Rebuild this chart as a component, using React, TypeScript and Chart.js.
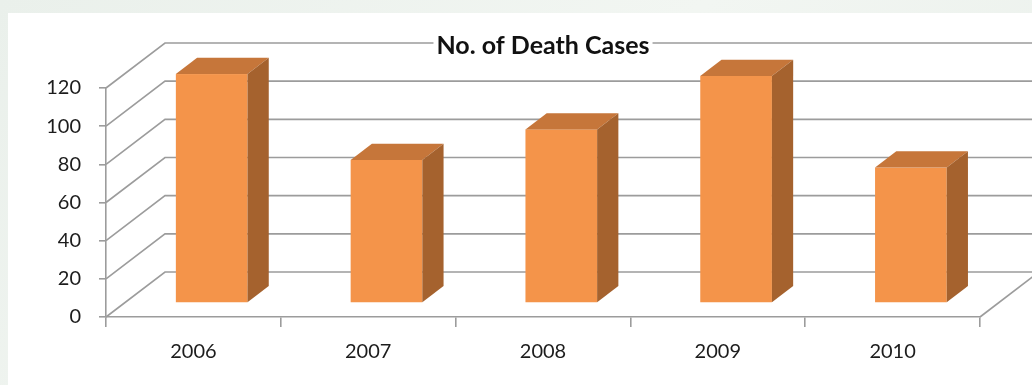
import React, { useEffect, useRef } from "react";
import { Chart, registerables } from "chart.js";

Chart.register(...registerables);

// Data
const years = ["2006", "2007", "2008", "2009", "2010"];
const deathCases = [120, 75, 91, 119, 71];
const yTickValues = [0, 20, 40, 60, 80, 100, 120];
const chartTitle = "No. of Death Cases";

// Styling
const FRONT = "#f4944a";
const TOP = "#c6763a";
const SIDE = "#a5622e";
const GRID = "#9c9c9c";
const TEXT = "#1c1c1c";
const FONT = "Lato, 'Open Sans', sans-serif";

// 3D box geometry: offset of the back wall relative to the front plane
const WALL_DX = 59;
const WALL_DY = 45;
// bars sit part way into the box
const BAR_FRONT = 0.31;
const BAR_DEPTH = 0.36;

const wallsPlugin = {
  id: "walls3d",
  beforeDatasetsDraw(chart: any) {
    const { ctx, chartArea, scales } = chart;
    const { left, right, bottom } = chartArea;
    const y = scales.y;
    ctx.save();
    ctx.strokeStyle = GRID;
    ctx.lineWidth = 1.6;
    for (const v of yTickValues) {
      const py = y.getPixelForValue(v);
      ctx.beginPath();
      ctx.moveTo(left, py);
      ctx.lineTo(left + WALL_DX, py - WALL_DY);
      ctx.lineTo(chart.width + 10, py - WALL_DY);
      ctx.stroke();
    }
    // right edge of the floor
    ctx.beginPath();
    ctx.moveTo(right, bottom);
    ctx.lineTo(right + WALL_DX, bottom - WALL_DY);
    ctx.stroke();
    ctx.restore();
  },
};

const bars3dPlugin = {
  id: "bars3d",
  beforeDatasetDraw() {
    // boxes are painted in afterDatasetsDraw
    return false;
  },
  afterDatasetsDraw(chart: any) {
    const { ctx } = chart;
    const meta = chart.getDatasetMeta(0);
    const ox = BAR_FRONT * WALL_DX;
    const oy = BAR_FRONT * WALL_DY;
    const dx = BAR_DEPTH * WALL_DX;
    const dy = BAR_DEPTH * WALL_DY;
    ctx.save();
    meta.data.forEach((bar: any) => {
      const { x, y, base, width } = bar.getProps(["x", "y", "base", "width"], true);
      const x0 = x - width / 2 + ox;
      const x1 = x + width / 2 + ox;
      const yt = y - oy;
      const yb = base - oy;
      // front face
      ctx.fillStyle = FRONT;
      ctx.fillRect(x0, yt, x1 - x0, yb - yt);
      // top face
      ctx.fillStyle = TOP;
      ctx.beginPath();
      ctx.moveTo(x0, yt);
      ctx.lineTo(x1, yt);
      ctx.lineTo(x1 + dx, yt - dy);
      ctx.lineTo(x0 + dx, yt - dy);
      ctx.closePath();
      ctx.fill();
      // side face
      ctx.fillStyle = SIDE;
      ctx.beginPath();
      ctx.moveTo(x1, yt);
      ctx.lineTo(x1 + dx, yt - dy);
      ctx.lineTo(x1 + dx, yb - dy);
      ctx.lineTo(x1, yb);
      ctx.closePath();
      ctx.fill();
    });
    ctx.restore();
  },
};

const titlePlugin = {
  id: "boxTitle",
  afterDraw(chart: any) {
    const { ctx, chartArea } = chart;
    const cx = (chartArea.left + chartArea.right) / 2;
    const cy = 33;
    ctx.save();
    ctx.font = `bold 25px ${FONT}`;
    const w = ctx.measureText(chartTitle).width;
    ctx.fillStyle = "#ffffff";
    ctx.fillRect(cx - w / 2 - 3, cy - 14, w + 6, 28);
    ctx.fillStyle = "#111111";
    ctx.textAlign = "center";
    ctx.textBaseline = "middle";
    ctx.fillText(chartTitle, cx, cy);
    ctx.restore();
  },
};

export default function App() {
  const canvasRef = useRef<HTMLCanvasElement | null>(null);

  useEffect(() => {
    if (!canvasRef.current) return;
    const chart = new Chart(canvasRef.current, {
      type: "bar",
      data: {
        labels: years,
        datasets: [
          {
            label: chartTitle,
            data: deathCases,
            backgroundColor: FRONT,
            categoryPercentage: 1,
            barPercentage: 0.41,
          },
        ],
      },
      options: {
        animation: false,
        responsive: false,
        devicePixelRatio: 1,
        layout: { padding: { top: 75, right: 52, left: 0, bottom: 0 } },
        plugins: {
          legend: { display: false },
          tooltip: { enabled: false },
          title: { display: false },
        },
        scales: {
          x: {
            type: "category",
            offset: true,
            grid: {
              offset: true,
              drawOnChartArea: false,
              drawTicks: true,
              tickLength: 10,
              color: GRID,
              lineWidth: 1.6,
            },
            border: { display: true, color: GRID, width: 1.6 },
            ticks: {
              color: TEXT,
              font: { family: FONT, size: 20 },
              padding: 13,
              maxRotation: 0,
            },
            afterFit(scale: any) {
              scale.height = 68;
            },
          },
          y: {
            min: 0,
            max: 120,
            grid: {
              drawOnChartArea: false,
              drawTicks: true,
              tickLength: 7,
              color: GRID,
              lineWidth: 1.6,
            },
            border: { display: true, color: GRID, width: 1.6 },
            ticks: {
              stepSize: 20,
              color: TEXT,
              font: { family: FONT, size: 20 },
              padding: 18,
            },
            afterFit(scale: any) {
              scale.width = 98;
            },
          },
        },
      },
      plugins: [wallsPlugin, bars3dPlugin, titlePlugin],
    });
    return () => chart.destroy();
  }, []);

  return (
    <div
      style={{
        position: "fixed",
        inset: 0,
        background: "linear-gradient(135deg, #eaf0eb 0%, #f2f6f2 50%, #e9efea 100%)",
      }}
    >
      <div
        style={{
          position: "absolute",
          left: 8,
          top: 13,
          width: 1024,
          height: 372,
          background: "#ffffff",
        }}
      >
        <canvas ref={canvasRef} width={1024} height={372} style={{ display: "block" }} />
      </div>
    </div>
  );
}
